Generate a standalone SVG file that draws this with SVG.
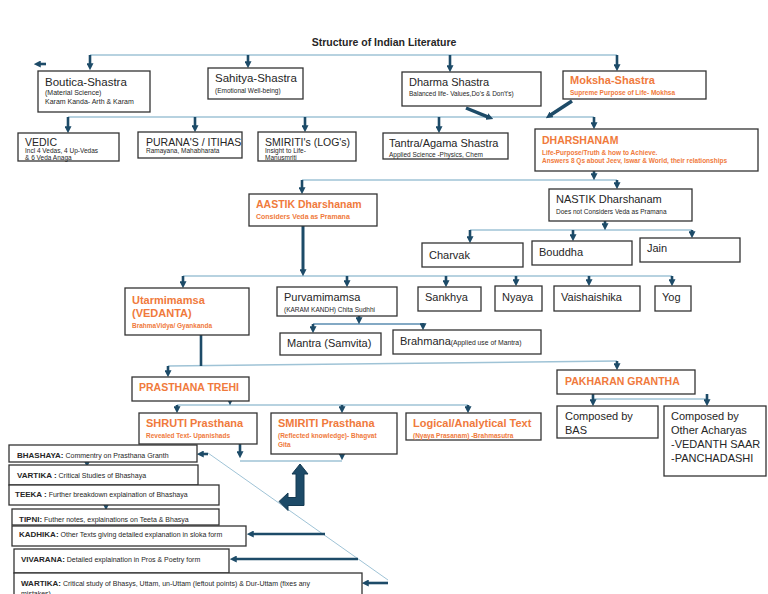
<svg xmlns="http://www.w3.org/2000/svg" width="768" height="594" viewBox="0 0 768 594">
<style>
text{font-family:"Liberation Sans",Arial,sans-serif;fill:#262626}
.b{fill:#fff;stroke:#333;stroke-width:1.3}
.h{font-size:11px}
.hc{font-size:10.5px}
.s{font-size:7px}
.xs{font-size:6.5px}
.o{fill:#F07A3C;font-weight:bold}
.bd{font-weight:bold}
.ln{fill:none;stroke:#9fc3d6;stroke-width:1.6}
.ar{fill:none;stroke:#1d4b68;stroke-width:2.6;marker-end:url(#ah)}
</style>
<defs>
<marker id="ah" viewBox="0 0 8 8" refX="2" refY="4" markerWidth="7" markerHeight="7" markerUnits="userSpaceOnUse" orient="auto"><path d="M0,0 L8,4 L0,8 z" fill="#1d4b68"/></marker>
</defs>
<rect width="768" height="594" fill="#fff"/>
<text x="384" y="46" text-anchor="middle" class="bd" style="font-size:10.5px">Structure of Indian Literature</text>

<g id="connectors">
<path class="ln" d="M90,55 H617"/>
<path class="ln" d="M68,117 H594"/>
<path class="ln" d="M302,180 H617"/>
<path class="ln" d="M470,230 H692"/>
<path class="ln" d="M183,276 H672"/>
<path class="ln" d="M313,324 H423" style="stroke:#5a8db0"/>
<path class="ln" d="M168,366 L617,361"/>
<path class="ln" d="M177,405 H468"/>
<path class="ln" d="M593,399 H707"/>
<path class="ln" d="M240,461 H342"/>
<path class="ln" d="M208,453 L388,580" style="stroke-width:1"/>
<path class="ar" d="M90,55 V65"/>
<path class="ar" d="M248,55 V63"/>
<path class="ar" d="M450,55 V67"/>
<path class="ar" d="M617,55 V66"/>
<path class="ar" d="M46,64 H39"/>
<path class="ar" d="M68,117 V128"/>
<path class="ar" d="M195,117 V127"/>
<path class="ar" d="M305,117 V127"/>
<path class="ar" d="M439,117 V128"/>
<path class="ar" d="M594,117 V124"/>
<path class="ar" d="M466,108 L488.4,117.1" style="stroke-width:3.5"/>
<path class="ar" d="M572,101 L550.2,115.3" style="stroke-width:3.5"/>
<path class="ar" d="M594,171 V175"/>
<path class="ar" d="M302,180 V189"/>
<path class="ar" d="M617,180 V184"/>
<path class="ar" d="M303,226 V271" style="stroke-width:3"/>
<path class="ar" d="M183,276 V283"/>
<path class="ar" d="M347,276 V282"/>
<path class="ar" d="M446,276 V282"/>
<path class="ar" d="M516,276 V281"/>
<path class="ar" d="M589,276 V281"/>
<path class="ar" d="M672,276 V281"/>
<path class="ar" d="M605,221 V225"/>
<path class="ar" d="M470,230 V238"/>
<path class="ar" d="M573,230 V236"/>
<path class="ar" d="M692,230 V233"/>
<path class="ar" d="M359,316 V319"/>
<path class="ar" d="M313,324 V328"/>
<path class="ar" d="M423,323 V325"/>
<path d="M201,335 V366" fill="none" stroke="#1d4b68" stroke-width="2.6"/>
<path class="ar" d="M168,366 V372"/>
<path class="ar" d="M617,361 V365"/>
<path class="ar" d="M230,398 V400"/>
<path class="ar" d="M177,405 V408"/>
<path class="ar" d="M342,405 V408"/>
<path class="ar" d="M468,405 V408"/>
<path class="ar" d="M593,394 V401"/>
<path class="ar" d="M707,394 V401"/>
<path class="ar" d="M240,444 V453"/>
<path class="ar" d="M342,453 V455"/>
<path class="ar" d="M208,454 H202"/>
<path class="ar" d="M87,460 V462"/>
<path class="ar" d="M83,481 V484"/>
<path class="ar" d="M106,503 V505"/>
<path class="ar" d="M325,534 H252"/>
<path class="ar" d="M358,559 H235"/>
<path class="ar" d="M388,583 H367"/>
<polygon points="300,464 308,474 304,474 304,505.5 288,505.5 288,510.5 279,501.5 288,493 288,497.5 296,497.5 296,474 292,474" fill="#1d4b68" stroke="#153a52" stroke-width="1"/>
</g>

<g id="boutica"><rect class="b" x="38" y="71" width="112" height="41"/>
<text x="45" y="86" class="h" style="font-size:11.5px">Boutica-Shastra</text>
<text x="45" y="94.5" class="s">(Material Science)</text>
<text x="45" y="103.5" class="s">Karam Kanda- Arth &amp; Karam</text></g>

<g id="sahitya"><rect class="b" x="208" y="68" width="95" height="31"/>
<text x="215" y="82" class="h" style="font-size:11.5px">Sahitya-Shastra</text>
<text x="215" y="92.5" class="xs">(Emotional Well-being)</text></g>

<g id="dharma"><rect class="b" x="402" y="72" width="139" height="34"/>
<text x="409" y="86" class="h">Dharma Shastra</text>
<text x="409" y="95.5" class="xs">Balanced life- Values,Do's &amp; Don't's)</text></g>

<g id="moksha"><rect class="b" x="563" y="71" width="143" height="28"/>
<text x="570" y="84" class="h o">Moksha-Shastra</text>
<text x="570" y="94.5" class="xs o">Supreme Purpose of Life- Mokhsa</text></g>

<g id="vedic"><rect class="b" x="18" y="133" width="101" height="28"/>
<text x="25" y="145.5" class="hc">VEDIC</text>
<text x="25" y="153" class="xs">Incl 4 Vedas, 4 Up-Vedas</text>
<text x="25" y="159.8" class="xs">&amp; 6 Veda Anaga</text></g>

<g id="purana"><rect class="b" x="138" y="132" width="104" height="26"/>
<text x="146" y="145.5" class="hc">PURANA'S / ITIHAS</text>
<text x="146" y="153" class="xs">Ramayana, Mahabharata</text></g>

<g id="smiriti"><rect class="b" x="258" y="132" width="98" height="29"/>
<text x="265" y="145.5" class="hc">SMIRITI's (LOG's)</text>
<text x="265" y="153" class="xs">Insight to Life-</text>
<text x="265" y="159.5" class="xs">Manusmriti</text></g>

<g id="tantra"><rect class="b" x="383" y="133" width="125" height="26"/>
<text x="389" y="146.5" class="h">Tantra/Agama Shastra</text>
<text x="389" y="156.5" class="xs">Applied Science -Physics, Chem</text></g>

<g id="dharshanam"><rect class="b" x="535" y="129" width="223" height="42"/>
<text x="542" y="144" class="hc o">DHARSHANAM</text>
<text x="542" y="154.5" class="xs o">Life-Purpose/Truth &amp; how to Achieve.</text>
<text x="542" y="163" class="xs o">Answers 8 Qs about Jeev, Iswar &amp; World, their relationships</text></g>

<g id="aastik"><rect class="b" x="249" y="194" width="128" height="32"/>
<text x="256" y="208.3" class="hc o">AASTIK Dharshanam</text>
<text x="256" y="219" class="s o">Considers Veda as Pramana</text></g>

<g id="nastik"><rect class="b" x="549" y="189" width="143" height="32"/>
<text x="556" y="203.3" class="h">NASTIK Dharshanam</text>
<text x="556" y="214" class="xs">Does not Considers Veda as Pramana</text></g>

<g id="charvak"><rect class="b" x="422" y="243" width="101" height="24"/>
<text x="429" y="259" class="h">Charvak</text></g>
<g id="bouddha"><rect class="b" x="532" y="241" width="100" height="24"/>
<text x="539" y="256.3" class="h">Bouddha</text></g>
<g id="jain"><rect class="b" x="640" y="238" width="100" height="24"/>
<text x="647" y="251.7" class="h">Jain</text></g>

<g id="utarmimamsa"><rect class="b" x="125" y="288" width="124" height="47"/>
<text x="132" y="304" class="h o">Utarmimamsa</text>
<text x="132" y="317.3" class="h o">(VEDANTA)</text>
<text x="132" y="327.5" class="xs o">BrahmaVidya/ Gyankanda</text></g>

<g id="purvamimamsa"><rect class="b" x="277" y="287" width="120" height="29"/>
<text x="284" y="301.3" class="h">Purvamimamsa</text>
<text x="284" y="311.8" class="xs">(KARAM KANDH) Chita Sudhhi</text></g>

<g id="sankhya"><rect class="b" x="418" y="287" width="63" height="24"/>
<text x="425" y="301.3" class="h">Sankhya</text></g>
<g id="nyaya"><rect class="b" x="495" y="286" width="47" height="25"/>
<text x="502" y="301.3" class="h">Nyaya</text></g>
<g id="vaishaishika"><rect class="b" x="554" y="286" width="86" height="25"/>
<text x="561" y="301.3" class="h">Vaishaishika</text></g>
<g id="yog"><rect class="b" x="655" y="286" width="36" height="25"/>
<text x="662" y="301.3" class="h">Yog</text></g>

<g id="mantra"><rect class="b" x="280" y="333" width="101" height="22"/>
<text x="287" y="347.3" class="h">Mantra (Samvita)</text></g>
<g id="brahmana"><rect class="b" x="393" y="330" width="148" height="24"/>
<text x="400" y="344.5" class="h">Brahmana<tspan class="s" style="font-size:6.8px">(Applied use of Mantra)</tspan></text></g>

<g id="prasthana"><rect class="b" x="132" y="377" width="117" height="24"/>
<text x="139" y="391" class="hc o">PRASTHANA TREHI</text></g>
<g id="pakharan"><rect class="b" x="557" y="370" width="138" height="24"/>
<text x="565" y="385" class="hc o">PAKHARAN GRANTHA</text></g>

<g id="shruti"><rect class="b" x="139" y="413" width="118" height="31"/>
<text x="146" y="427.3" class="h o">SHRUTI Prasthana</text>
<text x="146" y="437.5" class="xs o">Revealed Text- Upanishads</text></g>
<g id="smiriti-p"><rect class="b" x="271" y="413" width="126" height="41"/>
<text x="278" y="427.3" class="h o">SMIRITI Prasthana</text>
<text x="278" y="437.5" class="xs o">(Reflected knowledge)- Bhagvat</text>
<text x="278" y="446.8" class="xs o">Gita</text></g>
<g id="logical"><rect class="b" x="406" y="413" width="135" height="27"/>
<text x="413" y="427.3" class="h o">Logical/Analytical Text</text>
<text x="413" y="437.5" class="xs o">(Nyaya Prasanam) -Brahmasutra</text></g>

<g id="bas"><rect class="b" x="557" y="406" width="101" height="32"/>
<text x="565" y="420" class="h">Composed by</text>
<text x="565" y="434" class="h">BAS</text></g>
<g id="acharyas"><rect class="b" x="664" y="406" width="102" height="70"/>
<text x="671" y="420" class="h">Composed by</text>
<text x="671" y="434" class="h">Other Acharyas</text>
<text x="671" y="448" class="h">-VEDANTH SAAR</text>
<text x="671" y="462" class="h">-PANCHADASHI</text></g>

<g id="bhashaya"><rect class="b" x="9" y="445" width="188" height="17"/>
<text x="17" y="457.5" class="s"><tspan class="bd" style="font-size:8px">BHASHAYA:</tspan> Commentry on Prasthana Granth</text></g>
<g id="vartika"><rect class="b" x="9" y="465" width="189" height="20"/>
<text x="17" y="477.5" class="s"><tspan class="bd" style="font-size:8px">VARTIKA :</tspan> Critical Studies of Bhashaya</text></g>
<g id="teeka"><rect class="b" x="9" y="485" width="210" height="20"/>
<text x="15" y="497" class="s"><tspan class="bd" style="font-size:8px">TEEKA :</tspan> Further breakdown explaination of Bhashaya</text></g>
<g id="tipni"><rect class="b" x="12" y="509" width="207" height="16"/>
<text x="19" y="521.5" class="s"><tspan class="bd" style="font-size:8px">TIPNI:</tspan> Futher notes, explainations on Teeta &amp; Bhasya</text></g>
<g id="kadhika"><rect class="b" x="12" y="526" width="234" height="20"/>
<text x="19" y="537" class="s"><tspan class="bd" style="font-size:8px">KADHIKA:</tspan> Other Texts giving detailed explanation in sloka form</text></g>
<g id="vivarana"><rect class="b" x="14" y="549" width="215" height="24"/>
<text x="21" y="561.8" class="s"><tspan class="bd" style="font-size:8px">VIVARANA:</tspan>  Detailed explaination in Pros &amp; Poetry form</text></g>
<g id="wartika"><rect class="b" x="14" y="573" width="348" height="30"/>
<text x="21" y="586" class="s"><tspan class="bd" style="font-size:8px">WARTIKA:</tspan> Critical study of Bhasys, Uttam, un-Uttam (leftout points) &amp; Dur-Uttam (fixes any</text>
<text x="21" y="596" class="s">mistakes)</text></g>
</svg>
